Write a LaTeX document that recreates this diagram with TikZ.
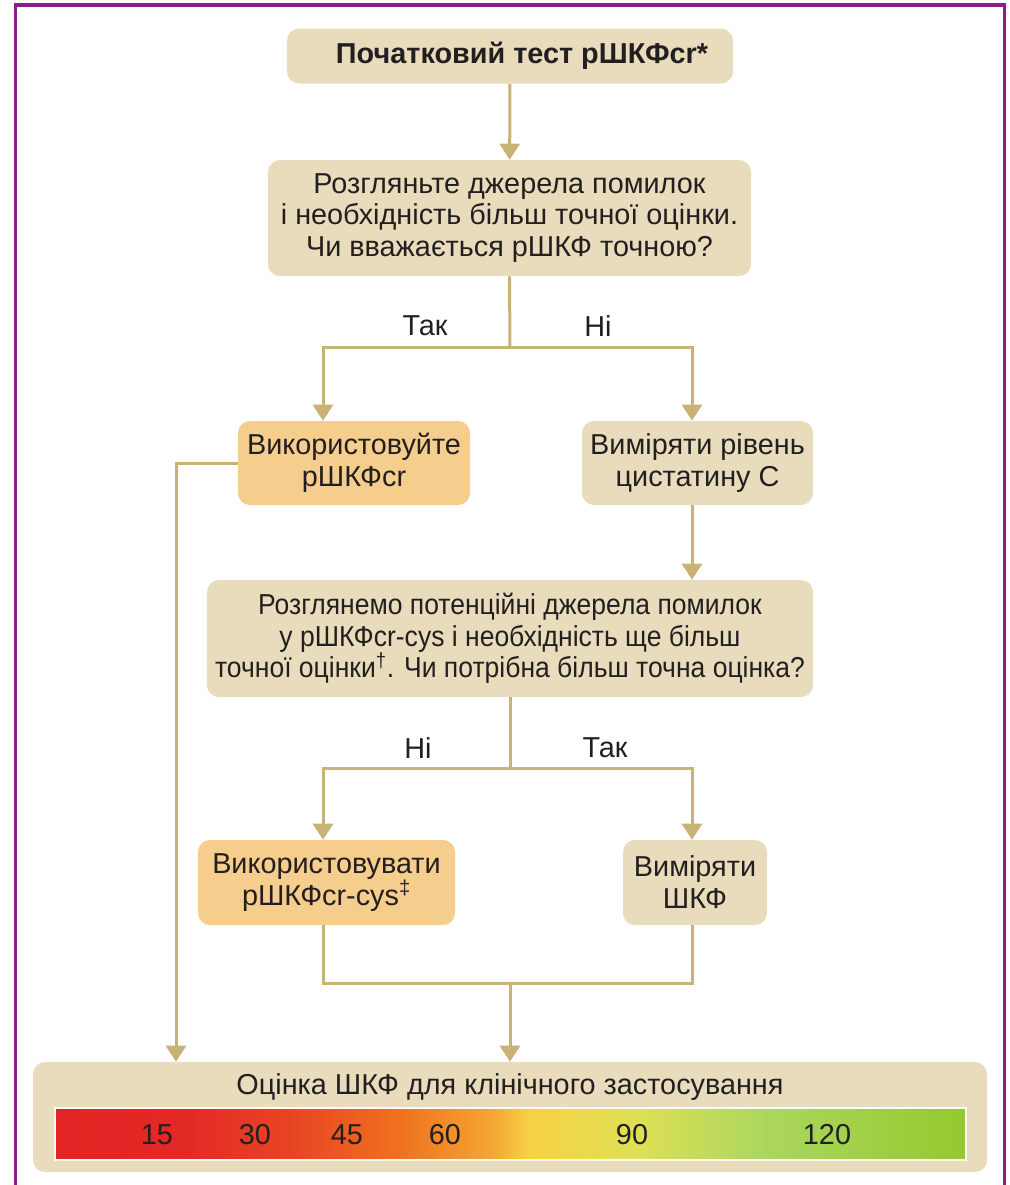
\documentclass[tikz,border=0pt]{standalone}
\usepackage{fontspec}
\setmainfont{Liberation Sans}
\newfontfamily\narrowsans{Liberation Sans}[FakeStretch=0.92]
\usetikzlibrary{arrows.meta}

\definecolor{boxtan}{RGB}{232,220,188}
\definecolor{boxorange}{RGB}{245,205,140}
\definecolor{linktan}{RGB}{200,178,118}
\definecolor{framepurple}{RGB}{140,30,140}
\definecolor{inkdark}{RGB}{35,31,32}

% colour scale of the bar, the path covers 25bp..75bp
\pgfdeclarehorizontalshading{gfrscale}{100bp}{
  rgb(0bp)=(0.89,0.14,0.14); rgb(25bp)=(0.89,0.14,0.14);
  rgb(32bp)=(0.89,0.16,0.15); rgb(38bp)=(0.91,0.27,0.14);
  rgb(44bp)=(0.94,0.45,0.12); rgb(49bp)=(0.96,0.65,0.20);
  rgb(51bp)=(0.97,0.82,0.27); rgb(57bp)=(0.87,0.88,0.33);
  rgb(64bp)=(0.67,0.84,0.37); rgb(75bp)=(0.58,0.79,0.18);
  rgb(100bp)=(0.58,0.79,0.18)}

\tikzset{
  box/.style={rounded corners=3mm, inner sep=0pt, align=center, text=inkdark,
    font=\fontsize{20.5}{22.6}\selectfont},
  tanbox/.style={box, fill=boxtan},
  orangebox/.style={box, fill=boxorange},
  link/.style={draw=linktan, line width=0.75mm},
  tip/.style={-{Triangle[width=5mm,length=4mm]}},
  branch/.style={text=inkdark, font=\fontsize{20.5}{22}\selectfont}
}

\begin{document}
\begin{tikzpicture}[x=0.25mm,y=-0.25mm]
\useasboundingbox (0,0) rectangle (1010,1185);
\draw[framepurple, line width=0.8mm] (15.5,1190) -- (15.5,5) -- (1004.5,5) -- (1004.5,1190);

\node[tanbox, minimum width=111.5mm, minimum height=13.75mm, font=\bfseries\fontsize{20.5}{22}\selectfont]
  (start) at (510,56) {\hspace*{6mm}Початковий тест рШКФcr*};
\node[tanbox, minimum width=120.75mm, minimum height=29mm] (askcr) at (509.5,218)
  {Розгляньте джерела помилок\\і необхідність більш точної оцінки.\\Чи вважається рШКФ точною?};
\node[orangebox, minimum width=58mm, minimum height=21mm] (usecr) at (354,463)
  {Використовуйте\\рШКФcr};
\node[tanbox, minimum width=57.75mm, minimum height=21mm] (cysc) at (697.5,463)
  {Виміряти рівень\\цистатину С};
\node[tanbox, minimum width=151.5mm, minimum height=29.25mm, font=\narrowsans\fontsize{20.5}{22.6}\selectfont]
  (askcys) at (510,638.5)
  {Розглянемо потенційні джерела помилок\\у рШКФcr-cys і необхідність ще більш\\точної оцінки\textsuperscript{†}. Чи потрібна більш точна оцінка?};
\node[orangebox, minimum width=64.25mm, minimum height=21.25mm] (usecys) at (326.5,882.5)
  {Використовувати\\рШКФcr-cys\textsuperscript{‡}};
\node[tanbox, minimum width=36mm, minimum height=21.25mm] (mgfr) at (695,882.5)
  {Виміряти\\ШКФ};
\node[tanbox, minimum width=238.5mm, minimum height=27.5mm] (result) at (510,1117) {};
\node[branch] (restitle) at (510,1087) {Оцінка ШКФ для клінічного застосування};

\shade[shading=gfrscale, draw=white!85!boxtan, line width=0.4mm] (55,1108) rectangle (966,1160);
\foreach \gx/\gv in {157/15, 255/30, 347/45, 445/60, 632/90, 827/120}
  \node[branch] (g\gv) at (\gx,1135) {\gv};

\coordinate (split1) at (510,347);
\coordinate (yes1) at (323,347);
\coordinate (no1) at (692,347);
\coordinate (split2) at (510,768);
\coordinate (no2) at (323,768);
\coordinate (yes2) at (692,768);
\coordinate (join) at (510,983);
\coordinate (bypass) at (176,463);

\draw[link, tip] (start) -- (askcr);
\draw[link] (askcr.south) -- (split1);
\draw[link, tip] (split1) -- (yes1) -- (usecr.north -| yes1);
\draw[link, tip] (split1) -- (no1) -- (cysc.north -| no1);
\node[branch] (lyes1) at (425,326) {Так};
\node[branch] (lno1) at (598,326) {Ні};

\draw[link, tip] (usecr.west) -- (bypass) -- (result.north -| bypass);
\draw[link, tip] (cysc.south -| no1) -- (askcys.north -| no1);

\draw[link] (askcys.south) -- (split2);
\draw[link, tip] (split2) -- (no2) -- (usecys.north -| no2);
\draw[link, tip] (split2) -- (yes2) -- (mgfr.north -| yes2);
\node[branch] (lno2) at (418,748) {Ні};
\node[branch] (lyes2) at (605,748) {Так};

\draw[link] (usecys.south -| no2) |- (join) -| (mgfr.south -| yes2);
\draw[link, tip] (join) -- (result.north -| join);
\end{tikzpicture}
\end{document}
